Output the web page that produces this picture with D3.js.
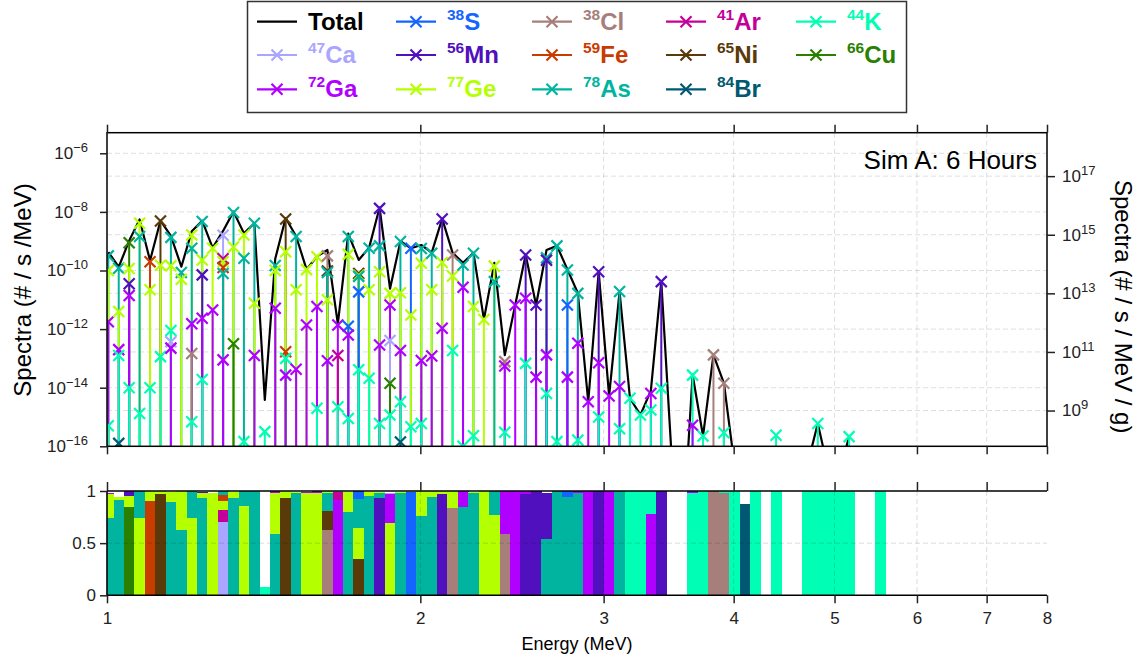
<!DOCTYPE html>
<html>
<head>
<meta charset="utf-8">
<script src="https://cdn.jsdelivr.net/npm/d3@7"></script>
<style>
  body { margin: 0; background: #fff; }
  svg { font-family: "Liberation Sans", Arial, Helvetica, sans-serif; }
</style>
</head>
<body>
<svg id="chart" width="1145" height="659"></svg>
<script>
// Energy bins: 90 log-spaced bins, centre of bin k at 10^(binLog0 + k*binLogStep) MeV
const nBins = 90;
const binLog0 = 0.00125;
const binLogStep = 0.010024;
const energies = d3.range(nBins).map(k => Math.pow(10, binLog0 + k * binLogStep));

// Spectra, log10(# / s / MeV), as [bin, value] pairs
const S38  = [[23,-11.9],[24,-10.73],[29,-9.24],[44,-11.18]];
const Cl38 = [[8,-12.83],[21,-9.5],[33,-9.47],[38,-13.11],[58,-12.88],[59,-13.85]];
const Ar41 = [[11,-9.6],[22,-12.9]];
const K44  = [[0,-15.3],[1,-12.9],[2,-14.0],[3,-14.88],[4,-14.0],[5,-12.94],[6,-12.05],[8,-15.16],[9,-13.72],
              [13,-15.84],[15,-15.5],[17,-13.0],[20,-14.7],[22,-14.65],[23,-15.05],[24,-13.39],[25,-13.68],
              [26,-15.22],[27,-14.93],[28,-14.48],[29,-15.33],[30,-15.22],[33,-12.73],[34,-16.0],[35,-15.64],
              [38,-15.52],[40,-13.17],[42,-14.2],[43,-15.84],[45,-15.79],[47,-15.0],[49,-15.4],[50,-14.36],
              [51,-14.93],[52,-14.76],[53,-14.02],[56,-13.57],[57,-15.65],[59,-15.54],[60,-16.6],[62,-17.0],
              [64,-15.62],[67,-16.64],[68,-15.22],[69,-16.8],[70,-17.0],[71,-15.67],[74,-17.0]];
const Ca47 = [[6,-12.43],[11,-8.8],[27,-12.39]];
const Mn56 = [[2,-10.45],[9,-10.15],[26,-7.88],[32,-8.24],[40,-9.47],[41,-11.18],[42,-9.65],[47,-10.04],[53,-10.38]];
const Fe59 = [[4,-9.7],[11,-9.9],[17,-12.77]];
const Ni65 = [[5,-8.31],[17,-8.24],[21,-10.02],[24,-10.1]];
const Cu66 = [[2,-9.05],[12,-12.5],[27,-13.85]];
const Ga72 = [[0,-11.75],[1,-12.7],[2,-10.85],[6,-12.65],[8,-11.82],[9,-11.63],[10,-11.35],[11,-13.05],[14,-12.9],
              [16,-11.29],[17,-13.57],[18,-13.37],[19,-11.86],[20,-11.23],[21,-13.08],[22,-11.86],[23,-12.2],
              [26,-12.54],[27,-11.18],[28,-12.73],[30,-13.07],[31,-12.92],[32,-11.97],[34,-10.57],[38,-13.26],
              [39,-11.18],[40,-10.95],[41,-13.64],[42,-12.88],[44,-13.64],[45,-12.48],[46,-14.48],[47,-13.15],
              [48,-14.28],[49,-13.96],[52,-14.2],[56,-15.28]];
const Ge77 = [[0,-10.0],[1,-11.4],[2,-9.93],[3,-8.39],[4,-10.66],[5,-9.82],[6,-9.84],[7,-10.3],[8,-8.79],[9,-9.64],
              [10,-9.24],[11,-9.7],[12,-9.2],[13,-8.79],[14,-11.12],[16,-10.0],[17,-9.36],[18,-10.66],[19,-9.97],
              [20,-9.53],[21,-11.0],[23,-9.45],[24,-10.16],[25,-10.66],[26,-10.04],[27,-10.78],[28,-10.76],
              [29,-11.52],[30,-9.75],[31,-10.66],[32,-9.73],[33,-10.19],[35,-11.23],[36,-11.67],[37,-9.85]];
const As78 = [[0,-9.5],[1,-9.92],[3,-8.84],[6,-8.87],[7,-10.07],[8,-9.24],[9,-8.33],[11,-10.1],[12,-8.02],[13,-9.58],
              [14,-8.39],[16,-9.83],[18,-8.84],[21,-10.07],[23,-8.84],[24,-10.2],[25,-9.24],[26,-9.16],[28,-9.01],
              [30,-9.25],[31,-9.41],[34,-9.81],[35,-9.41],[37,-10.38],[42,-9.57],[43,-9.16],[44,-9.98],[45,-10.78],
              [49,-10.72]];
const Br84 = [[1,-15.9],[28,-15.85],[61,-17.0]];

// Total spectrum, log10, one entry per bin from bin 0 (null = nothing in that bin)
const total = [
  -9.37, -9.88, -8.98, -8.26, -9.66, -8.3, -8.82, -9.87, -8.66, -8.3,
  -9.23, -8.65, -7.99, -8.73, -8.39, -14.42, -9.6, -8.21, -8.83, -9.96,
  -9.52, -9.3, -11.82, -8.74, -9.64, -9.22, -7.85, -10.62, -9.0, -9.24,
  -9.13, -9.39, -8.23, -9.4, -9.74, -9.4, -11.67, -9.74, -12.89, -11.18,
  -9.46, -11.18, -9.3, -9.16, -9.96, -10.77, -14.48, -10.04, -14.28, -10.72,
  -14.36, -14.93, -14.1, -10.38, -16.4, -19.5, -13.56, -15.65, -12.88, -13.84,
  -16.6, -16.94, -17.0, null, -15.62, null, null, -16.64, -15.22, -16.8,
  -17.0, -15.67, null, null, -17.0
];

const isoData   = [S38, Cl38, Ar41, K44, Ca47, Mn56, Fe59, Ni65, Cu66, Ga72, Ge77, As78, Br84];
const isoMass   = ['38', '38', '41', '44', '47', '56', '59', '65', '66', '72', '77', '78', '84'];
const isoSymbol = ['S', 'Cl', 'Ar', 'K', 'Ca', 'Mn', 'Fe', 'Ni', 'Cu', 'Ga', 'Ge', 'As', 'Br'];
const isoColors = ['#1464ff', '#a67f7b', '#c4009a', '#00ffb4', '#aaa6ff', '#5010bd', '#c83c00',
                   '#5a3a08', '#2a8000', '#b000ff', '#b4ff00', '#00b4a0', '#005872'];

// Axis ticks
const xTicks = [1, 2, 3, 4, 5, 6, 7, 8];
const leftExps = [-16, -14, -12, -10, -8, -6];
const rightExps = [9, 11, 13, 15, 17];
const fracTicks = [0, 0.5, 1];
const perGram = 6.022e23;

const svg = d3.select('#chart');
const L = 107, R = 1047, T1 = 132.7, B1 = 446.3, T2 = 491, B2 = 595.3;

const x = d3.scaleLog().domain([1, 8]).range([L, R]);
const y = d3.scaleLog().domain([1e-16, Math.pow(10, -5.297)]).range([B1, T1]);
const yR = d3.scaleLog().domain(y.domain().map(v => v * perGram)).range([B1, T1]);
const yF = d3.scaleLinear().domain([0, 1]).range([B2, T2]);

const halfBin = Math.pow(10, binLogStep / 2);
const minus = e => (e < 0 ? '\u2212' + (-e) : String(e));

const defs = svg.append('defs');
defs.append('clipPath').attr('id', 'clipTop').append('rect')
  .attr('x', L).attr('y', T1).attr('width', R - L).attr('height', B1 - T1);
defs.append('clipPath').attr('id', 'clipBot').append('rect')
  .attr('x', L).attr('y', T2).attr('width', R - L).attr('height', B2 - T2);

// ---------- top panel grid ----------
const gridTop = svg.append('g')
  .attr('stroke', 'rgba(0,0,0,0.13)').attr('stroke-width', 1).attr('stroke-dasharray', '5,3');
leftExps.forEach(e => gridTop.append('line')
  .attr('x1', L).attr('x2', R).attr('y1', y(Math.pow(10, e))).attr('y2', y(Math.pow(10, e))));
rightExps.forEach(e => gridTop.append('line')
  .attr('x1', L).attr('x2', R).attr('y1', yR(Math.pow(10, e))).attr('y2', yR(Math.pow(10, e))));
xTicks.slice(1, -1).forEach(t => gridTop.append('line')
  .attr('x1', x(t)).attr('x2', x(t)).attr('y1', T1).attr('y2', B1));

// collect isotope points per bin
const perBin = d3.range(nBins).map(() => []);
isoData.forEach((arr, i) => arr.forEach(([k, lv]) => perBin[k].push({ i, k, v: Math.pow(10, lv) })));
perBin.forEach(list => list.sort((a, b) => b.v - a.v));
const points = perBin.flat();

const plot = svg.append('g').attr('clip-path', 'url(#clipTop)');

// total line
const line = d3.line()
  .defined(d => d != null)
  .x((d, k) => x(energies[k]))
  .y(d => y(Math.pow(10, d)));
plot.append('path')
  .datum(total)
  .attr('fill', 'none')
  .attr('stroke', '#000')
  .attr('stroke-width', 2.2)
  .attr('stroke-linejoin', 'round')
  .attr('d', line);

// stems: tallest first so the shorter ones sit on top
plot.append('g').selectAll('line')
  .data(points)
  .join('line')
  .attr('x1', d => x(energies[d.k]))
  .attr('x2', d => x(energies[d.k]))
  .attr('y1', B1 + 2)
  .attr('y2', d => y(d.v))
  .attr('stroke', d => isoColors[d.i])
  .attr('stroke-width', 2);

const cross = 'M-5.5,-5.5L5.5,5.5M-5.5,5.5L5.5,-5.5';
plot.append('g').selectAll('path')
  .data(points)
  .join('path')
  .attr('transform', d => `translate(${x(energies[d.k])},${y(d.v)})`)
  .attr('d', cross)
  .attr('fill', 'none')
  .attr('stroke', d => isoColors[d.i])
  .attr('stroke-width', 2.2);

// top panel frame
svg.append('rect')
  .attr('x', L).attr('y', T1).attr('width', R - L).attr('height', B1 - T1)
  .attr('fill', 'none').attr('stroke', '#000').attr('stroke-width', 1.5);

function supLabels(g) {
  g.selectAll('.tick text').text(null).each(function (d) {
    const t = d3.select(this);
    const e = Math.round(Math.log10(d));
    t.append('tspan').text('10');
    t.append('tspan').attr('dy', -7).attr('font-size', 13).text(minus(e));
  });
}
function styleAxis(g) {
  g.attr('font-family', null).attr('font-size', 17).attr('color', '#222');
  g.select('.domain').remove();
  g.selectAll('.tick line').attr('stroke-width', 1.5);
}

svg.append('g').attr('transform', `translate(${L},0)`)
  .call(d3.axisLeft(y).tickValues(leftExps.map(e => Math.pow(10, e))).tickSize(7).tickPadding(12))
  .call(styleAxis).call(supLabels);

svg.append('g').attr('transform', `translate(${R},0)`)
  .call(d3.axisRight(yR).tickValues(rightExps.map(e => Math.pow(10, e))).tickSize(8).tickPadding(7))
  .call(styleAxis).call(supLabels);

svg.append('g').attr('transform', `translate(0,${B1})`)
  .call(d3.axisBottom(x).tickValues(xTicks).tickSize(8).tickFormat(''))
  .call(styleAxis);
svg.append('g').attr('transform', `translate(0,${T1})`)
  .call(d3.axisTop(x).tickValues(xTicks).tickSize(8).tickFormat(''))
  .call(styleAxis);

// ---------- bottom panel: fraction of the total per bin ----------
const bars = svg.append('g').attr('clip-path', 'url(#clipBot)').attr('shape-rendering', 'crispEdges');
perBin.forEach((list, k) => {
  if (k >= total.length || total[k] == null || list.length === 0) return;
  const sum = d3.sum(list, d => d.v);
  const tot = Math.max(Math.pow(10, total[k]), sum);
  const x0 = x(energies[k] / halfBin), x1 = x(energies[k] * halfBin);
  let acc = 0;
  list.forEach(d => {
    const f = d.v / tot;
    bars.append('rect')
      .attr('x', x0)
      .attr('width', x1 - x0 + 0.3)
      .attr('y', yF(acc + f))
      .attr('height', yF(acc) - yF(acc + f))
      .attr('fill', isoColors[d.i]);
    acc += f;
  });
});

const gridBot = svg.append('g')
  .attr('stroke', 'rgba(0,0,0,0.14)').attr('stroke-width', 1).attr('stroke-dasharray', '5,3');
gridBot.append('line').attr('x1', L).attr('x2', R).attr('y1', yF(0.5)).attr('y2', yF(0.5));
xTicks.slice(1, -1).forEach(t => gridBot.append('line')
  .attr('x1', x(t)).attr('x2', x(t)).attr('y1', T2).attr('y2', B2));

const frameBot = svg.append('g').attr('stroke', '#000').attr('stroke-width', 1.6);
frameBot.append('line').attr('x1', L).attr('x2', R).attr('y1', T2).attr('y2', T2);
frameBot.append('line').attr('x1', L).attr('x2', R).attr('y1', B2).attr('y2', B2);
frameBot.append('line').attr('x1', L).attr('x2', L).attr('y1', T2).attr('y2', B2);

svg.append('g').attr('transform', `translate(${L},0)`)
  .call(d3.axisLeft(yF).tickValues(fracTicks).tickSize(7).tickPadding(4).tickFormat(d => String(d)))
  .call(styleAxis);
svg.append('g').attr('transform', `translate(0,${B2})`)
  .call(d3.axisBottom(x).tickValues(xTicks).tickSize(8).tickPadding(9).tickFormat(d3.format('d')))
  .call(styleAxis);
svg.append('g').attr('transform', `translate(0,${T2})`)
  .call(d3.axisTop(x).tickValues(xTicks).tickSize(9).tickFormat(''))
  .call(styleAxis);

// ---------- labels ----------
svg.append('text')
  .attr('transform', 'translate(31,290) rotate(-90)')
  .attr('text-anchor', 'middle').attr('font-size', 24)
  .text('Spectra (# / s /MeV)');
svg.append('text')
  .attr('transform', 'translate(1115,180) rotate(90)')
  .attr('text-anchor', 'start').attr('font-size', 24)
  .text('Spectra (# / s / MeV / g)');
svg.append('text')
  .attr('x', 1037).attr('y', 168.5)
  .attr('text-anchor', 'end').attr('font-size', 26)
  .text('Sim A: 6 Hours');
svg.append('text')
  .attr('x', (L + R) / 2).attr('y', 649.5)
  .attr('text-anchor', 'middle').attr('font-size', 18)
  .text('Energy (MeV)');

// ---------- legend ----------
const legend = svg.append('g');
legend.append('rect')
  .attr('x', 247.5).attr('y', 1.5).attr('width', 659).attr('height', 111)
  .attr('fill', '#fff').attr('stroke', '#333').attr('stroke-width', 1.5);

const colLine = [257, 396, 532, 666, 796];
const colText = [308, 447, 583, 717, 847];
const rowY = [21.7, 55, 89.3];
const entries = [{ i: -1 }].concat(isoData.map((d, i) => ({ i })));
entries.forEach((e, n) => {
  const c = n % 5, r = Math.floor(n / 5);
  const cy = rowY[r];
  const color = e.i < 0 ? '#000' : isoColors[e.i];
  const g = legend.append('g');
  g.append('line')
    .attr('x1', colLine[c]).attr('x2', colLine[c] + 40)
    .attr('y1', cy).attr('y2', cy)
    .attr('stroke', color).attr('stroke-width', 2.2);
  if (e.i >= 0) {
    g.append('path')
      .attr('transform', `translate(${colLine[c] + 20},${cy})`)
      .attr('d', cross).attr('fill', 'none')
      .attr('stroke', color).attr('stroke-width', 2.2);
  }
  const t = g.append('text')
    .attr('x', colText[c]).attr('y', cy + 8)
    .attr('fill', color).attr('font-weight', 'bold').attr('font-size', 24);
  if (e.i < 0) {
    t.text('Total');
  } else {
    t.append('tspan').attr('font-size', 15.5).attr('dy', -10).text(isoMass[e.i]);
    t.append('tspan').attr('dy', 10).text(isoSymbol[e.i]);
  }
});
</script>
</body>
</html>
